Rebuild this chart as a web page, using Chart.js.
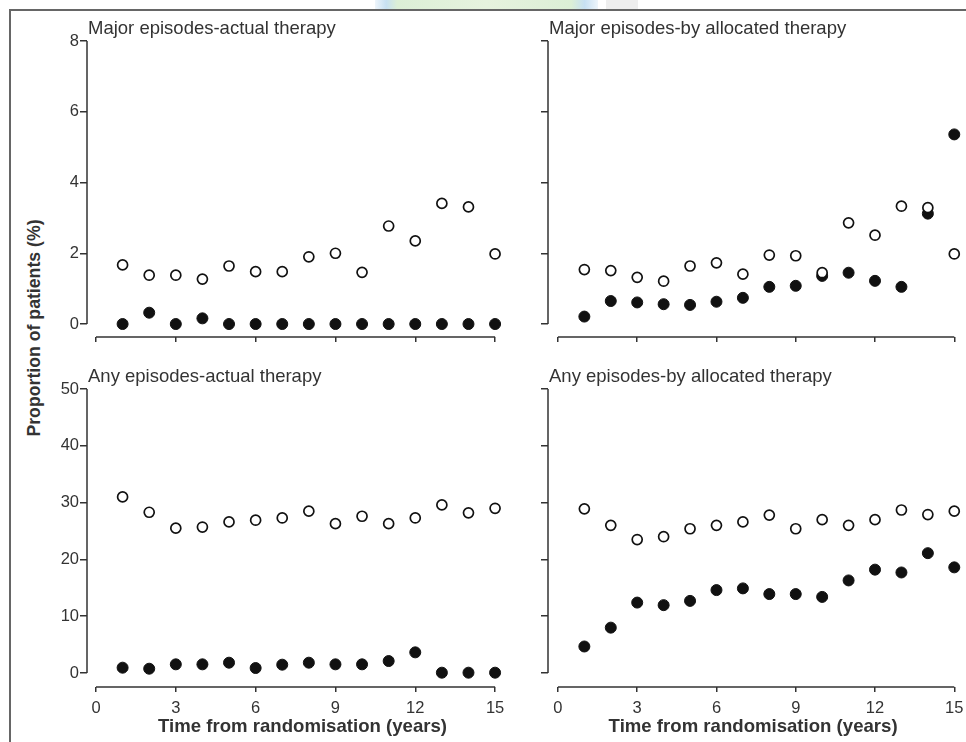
<!DOCTYPE html>
<html>
<head>
<meta charset="utf-8">
<script src="https://cdn.jsdelivr.net/npm/chart.js@4/dist/chart.umd.min.js"></script>
<style>
html, body { margin: 0; padding: 0; background: #fff; }
body { width: 966px; height: 742px; position: relative; overflow: hidden; font-family: "Liberation Sans", Arial, sans-serif; }
canvas { position: absolute; }
#frameTop { position: absolute; left: 10px; top: 9px; width: 956px; height: 0; border-top: 2px solid #666; }
#frameLeft { position: absolute; left: 9px; top: 9px; width: 0; height: 733px; border-left: 2px solid #666; }
#mark { position: absolute; left: 375px; top: 0; width: 223px; height: 9px;
        background: linear-gradient(90deg, #eef5fb 0, #c7e0f2 5%, #dcefd6 10%, #e6f2de 50%, #dcefd6 88%, #c7e0f2 94%, #eef5fb 100%); }
#mark2 { position: absolute; left: 606px; top: 0; width: 32px; height: 9px; background: #eeeeee; }
#ylab { position: absolute; left: 34px; top: 328px; transform: translate(-50%, -50%) rotate(-90deg); white-space: nowrap; font-weight: bold; font-size: 17.7px; color: #333; }
</style>
</head>
<body>
<div id="mark"></div>
<div id="mark2"></div>
<div id="frameTop"></div>
<div id="frameLeft"></div>
<div id="ylab">Proportion of patients (%)</div>
<canvas id="c1" width="510" height="350" style="left:0;top:0;width:510px;height:350px"></canvas>
<canvas id="c2" width="496" height="350" style="left:470px;top:0;width:496px;height:350px"></canvas>
<canvas id="c3" width="510" height="397" style="left:0;top:345px;width:510px;height:397px"></canvas>
<canvas id="c4" width="496" height="397" style="left:470px;top:345px;width:496px;height:397px"></canvas>
<script>
// Proportion of patients per year, open = one group, filled = the other
const years = [1, 2, 3, 4, 5, 6, 7, 8, 9, 10, 11, 12, 13, 14, 15];
const yearTicks = [0, 3, 6, 9, 12, 15];
const majorTicks = [0, 2, 4, 6, 8];
const anyTicks = [0, 10, 20, 30, 40, 50];

const majorActualOpen   = [1.67, 1.38, 1.38, 1.27, 1.64, 1.48, 1.48, 1.90, 2.00, 1.46, 2.77, 2.35, 3.41, 3.31, 1.98];
const majorActualFilled = [0.00, 0.32, 0.00, 0.16, 0.00, 0.00, 0.00, 0.00, 0.00, 0.00, 0.00, 0.00, 0.00, 0.00, 0.00];
const majorAllocOpen    = [1.54, 1.51, 1.32, 1.21, 1.64, 1.73, 1.41, 1.95, 1.93, 1.45, 2.86, 2.51, 3.33, 3.29, 1.98];
const majorAllocFilled  = [0.21, 0.65, 0.61, 0.56, 0.54, 0.63, 0.74, 1.05, 1.08, 1.36, 1.45, 1.22, 1.05, 3.12, 5.36];
const anyActualOpen     = [31.0, 28.3, 25.5, 25.7, 26.6, 26.9, 27.3, 28.5, 26.3, 27.6, 26.3, 27.3, 29.6, 28.2, 29.0];
const anyActualFilled   = [0.94, 0.76, 1.53, 1.53, 1.82, 0.88, 1.47, 1.82, 1.53, 1.53, 2.11, 3.64, 0.06, 0.06, 0.06];
const anyAllocOpen      = [28.9, 26.0, 23.5, 24.0, 25.4, 26.0, 26.6, 27.8, 25.4, 27.0, 26.0, 27.0, 28.7, 27.9, 28.5];
const anyAllocFilled    = [4.67, 7.99, 12.4, 11.95, 12.7, 14.6, 14.9, 13.9, 13.9, 13.4, 16.3, 18.2, 17.7, 21.1, 18.6];

const INK = '#333';
const FONT = '"Liberation Sans", Arial, sans-serif';
const XTITLE = 'Time from randomisation (years)';

// detached (R-style) axis lines, panel title and x title
const axesPlugin = {
    id: 'axesPlugin',
    afterDraw(chart) {
        const { ctx, chartArea, scales } = chart;
        const o = chart.options.plugins.axesPlugin;
        const yt = o.yTicks, xt = o.xTicks;
        ctx.save();
        ctx.strokeStyle = INK;
        ctx.lineWidth = 1.5;
        ctx.beginPath();
        ctx.moveTo(chartArea.left, scales.y.getPixelForValue(yt[0]));
        ctx.lineTo(chartArea.left, scales.y.getPixelForValue(yt[yt.length - 1]));
        ctx.moveTo(scales.x.getPixelForValue(xt[0]), chartArea.bottom);
        ctx.lineTo(scales.x.getPixelForValue(xt[xt.length - 1]), chartArea.bottom);
        ctx.stroke();
        ctx.fillStyle = INK;
        ctx.textBaseline = 'middle';
        ctx.textAlign = 'left';
        ctx.font = '18.5px ' + FONT;
        ctx.fillText(o.title, chartArea.left + 1, chartArea.top - 12);
        if (o.xTitle) {
            ctx.textAlign = 'center';
            ctx.font = 'bold 18.6px ' + FONT;
            const mid = (scales.x.getPixelForValue(xt[0]) + scales.x.getPixelForValue(xt[xt.length - 1])) / 2;
            ctx.fillText(XTITLE, mid + o.xTitleShift, chartArea.bottom + 40);
        }
        ctx.restore();
    }
};

function makePanel(id, p) {
    const ctx = document.getElementById(id).getContext('2d');
    return new Chart(ctx, {
        type: 'scatter',
        data: { datasets: [
            { data: years.map((x, i) => ({ x: x, y: p.open[i] })), pointRadius: 5, pointBorderWidth: 1.7,
              pointBackgroundColor: '#fff', pointBorderColor: '#111', clip: false },
            { data: years.map((x, i) => ({ x: x, y: p.filled[i] })), pointRadius: 5.5, pointBorderWidth: 1,
              pointBackgroundColor: '#111', pointBorderColor: '#111', clip: false }
        ] },
        options: {
            responsive: false, animation: false, events: [],
            layout: { padding: { top: p.padTop, right: p.padRight, left: 0, bottom: 0 } },
            plugins: { legend: { display: false }, tooltip: { enabled: false },
                       axesPlugin: { title: p.title, yTicks: p.yTicks, xTicks: yearTicks,
                                     xTitle: p.xLabels, xTitleShift: p.xTitleShift } },
            scales: {
                x: {
                    type: 'linear', min: p.xMin, max: p.xMax,
                    afterBuildTicks: s => { s.ticks = yearTicks.map(v => ({ value: v })); },
                    afterFit: s => { s.height = p.bottomH; s.paddingLeft = 0; s.paddingRight = 0; },
                    grid: { display: true, drawOnChartArea: false, tickLength: 5, color: INK, lineWidth: 1.5 },
                    border: { display: false },
                    ticks: { padding: 7, color: INK, font: { size: 16.5, family: FONT },
                             callback: v => p.xLabels ? v : '' }
                },
                y: {
                    type: 'linear', min: p.yMin, max: p.yMax,
                    afterBuildTicks: s => { s.ticks = p.yTicks.map(v => ({ value: v })); },
                    afterFit: s => { s.width = p.leftW; s.paddingTop = 0; s.paddingBottom = 0; },
                    grid: { display: true, drawOnChartArea: false, tickLength: 7, color: INK, lineWidth: 1.5 },
                    border: { display: false },
                    ticks: { padding: 1, color: INK, font: { size: 16.5, family: FONT },
                             callback: v => p.yLabels ? v : '' }
                }
            }
        },
        plugins: [axesPlugin]
    });
}

makePanel('c1', { title: 'Major episodes-actual therapy', open: majorActualOpen, filled: majorActualFilled,
    yTicks: majorTicks, yMin: -0.367, yMax: 8, yLabels: true, xLabels: false, xTitleShift: 0,
    leftW: 87, bottomH: 13, padTop: 41, padRight: 8, xMin: -0.338, xMax: 15.26 });
makePanel('c2', { title: 'Major episodes-by allocated therapy', open: majorAllocOpen, filled: majorAllocFilled,
    yTicks: majorTicks, yMin: -0.367, yMax: 8, yLabels: false, xLabels: false, xTitleShift: 0,
    leftW: 78, bottomH: 13, padTop: 41, padRight: 4, xMin: -0.376, xMax: 15.19 });
makePanel('c3', { title: 'Any episodes-actual therapy', open: anyActualOpen, filled: anyActualFilled,
    yTicks: anyTicks, yMin: -2.46, yMax: 50, yLabels: true, xLabels: true, xTitleShift: 7,
    leftW: 87, bottomH: 55, padTop: 44, padRight: 8, xMin: -0.338, xMax: 15.26 });
makePanel('c4', { title: 'Any episodes-by allocated therapy', open: anyAllocOpen, filled: anyAllocFilled,
    yTicks: anyTicks, yMin: -2.46, yMax: 50, yLabels: false, xLabels: true, xTitleShift: -3,
    leftW: 78, bottomH: 55, padTop: 44, padRight: 4, xMin: -0.376, xMax: 15.19 });
</script>
</body>
</html>
